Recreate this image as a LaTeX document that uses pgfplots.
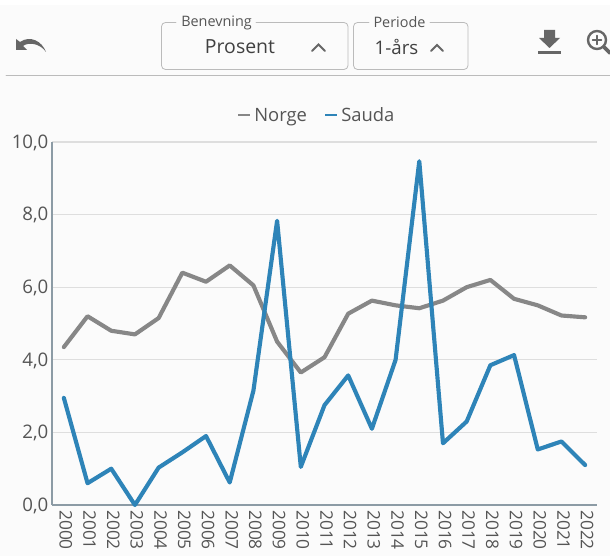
\documentclass[border=0pt]{standalone}
\usepackage{pgfplots}
\pgfplotsset{compat=1.18}
\usepackage{fontspec}
\setmainfont{Open Sans}
\definecolor{txt}{HTML}{555555}
\definecolor{ui}{HTML}{666666}
\definecolor{bd}{HTML}{BBBBBB}
\definecolor{norge}{HTML}{878787}
\definecolor{sauda}{HTML}{2E84B8}
\definecolor{axl}{HTML}{8C9BA5}
\definecolor{bg}{HTML}{FBFBFB}
\pgfplotstableread{
x n s
0 4.35 2.95
1 5.20 0.60
2 4.80 1.00
3 4.70 0.00
4 5.15 1.03
5 6.40 1.45
6 6.15 1.90
7 6.60 0.62
8 6.05 3.15
9 4.50 7.83
10 3.65 1.05
11 4.07 2.75
12 5.27 3.57
13 5.63 2.10
14 5.50 4.00
15 5.42 9.47
16 5.63 1.70
17 6.00 2.30
18 6.20 3.85
19 5.68 4.13
20 5.50 1.53
21 5.22 1.75
22 5.17 1.10
}\data
\begin{document}
\begin{tikzpicture}
\path[use as bounding box] (0pt,0pt) rectangle (457.5pt,417pt);
\begin{scope}[shift={(0pt,417pt)},x=0.75pt,y=-0.75pt,line cap=round]
\fill[bg] (0,0) rectangle (610,556);
\fill[white] (0,0) rectangle (610,5);
% toolbar
\draw[bd,line width=0.6pt] (6,75.5) -- (610,75.5);
\draw[bd,line width=0.6pt,rounded corners=3pt] (176,22.5) -- (161.5,22.5) -- (161.5,69.5) -- (348,69.5) -- (348,22.5) -- (256,22.5);
\draw[bd,line width=0.6pt,rounded corners=3pt] (369,22.5) -- (353.5,22.5) -- (353.5,69.5) -- (468,69.5) -- (468,22.5) -- (430,22.5);
\node[anchor=center,inner sep=0,text=txt,font=\fontsize{10.8}{12}\selectfont] at (216.5,22.5) {Benevning};
\node[anchor=center,inner sep=0,text=txt,font=\fontsize{10.8}{12}\selectfont] at (399.5,22.5) {Periode};
\node[anchor=center,inner sep=0,text=black!75,font=\fontsize{14.6}{16}\selectfont] at (240,47) {Prosent};
\node[anchor=center,inner sep=0,text=black!75,font=\fontsize{14}{16}\selectfont] at (396.5,47) {1-års};
\draw[ui,line width=1.4pt] (312,51) -- (318.5,44.5) -- (325,51);
\draw[ui,line width=1.4pt] (431,51) -- (437,45) -- (443,51);
% undo
\fill[ui] (16,39) -- (16,50) -- (27,50) -- (23,46) .. controls (28,42) and (40,43) .. (46,52) .. controls (42,41) and (30,35) .. (20,42) -- cycle;
% download
\fill[ui] (544,30) -- (555,30) -- (555,38) -- (560,38) -- (549.5,48) -- (539,38) -- (544,38) -- cycle;
\fill[ui] (538,51) rectangle (561,54);
% zoom
\draw[ui,line width=1.8pt] (597,40) circle (9);
\draw[ui,line width=2.8pt] (604,47) -- (610,53);
\draw[ui,line width=1pt] (592.5,40) -- (601.5,40) (597,35.5) -- (597,44.5);
% legend
\draw[norge,line width=2.2pt,line cap=butt] (238,115) -- (250,115);
\node[anchor=base west,inner sep=0,text=txt,font=\fontsize{13.8}{15}\selectfont] at (254,122) {Norge};
\draw[sauda,line width=2.2pt,line cap=butt] (325,115) -- (337,115);
\node[anchor=base west,inner sep=0,text=txt,font=\fontsize{13.8}{15}\selectfont] at (341,122) {Sauda};
\end{scope}
\begin{axis}[
  at={(39pt,38.25pt)},anchor=south west,
  scale only axis,width=408.75pt,height=272.25pt,
  xmin=-0.5,xmax=22.5,ymin=0,ymax=10,
  clip=false,
  axis x line*=bottom,axis y line*=left,
  axis line style={axl,line width=1.7pt,-},
  xtick={0,...,22},
  xticklabels={2000,2001,2002,2003,2004,2005,2006,2007,2008,2009,2010,2011,2012,2013,2014,2015,2016,2017,2018,2019,2020,2021,2022},
  x tick label style={rotate=-90,anchor=west,text=txt,font=\fontsize{13}{14}\selectfont,inner sep=0pt,xshift=3.7pt,yshift=1.5pt},
  ytick={0,2,4,6,8,10},
  yticklabels={{0,0},{2,0},{4,0},{6,0},{8,0},{10,0}},
  y tick label style={text=txt,font=\fontsize{14}{15}\selectfont,inner sep=0pt,xshift=-2.5pt,yshift=-0.5pt},
  tick style={draw=none},
  ymajorgrids,
  grid style={draw=black!13,line width=0.8pt},
  every axis plot/.append style={line join=round,line cap=round,no markers},
]
\addplot[norge,line width=3.1pt] table[x=x,y=n] {\data};
\addplot[sauda,line width=3.1pt] table[x=x,y=s] {\data};
\end{axis}
\end{tikzpicture}
\end{document}
